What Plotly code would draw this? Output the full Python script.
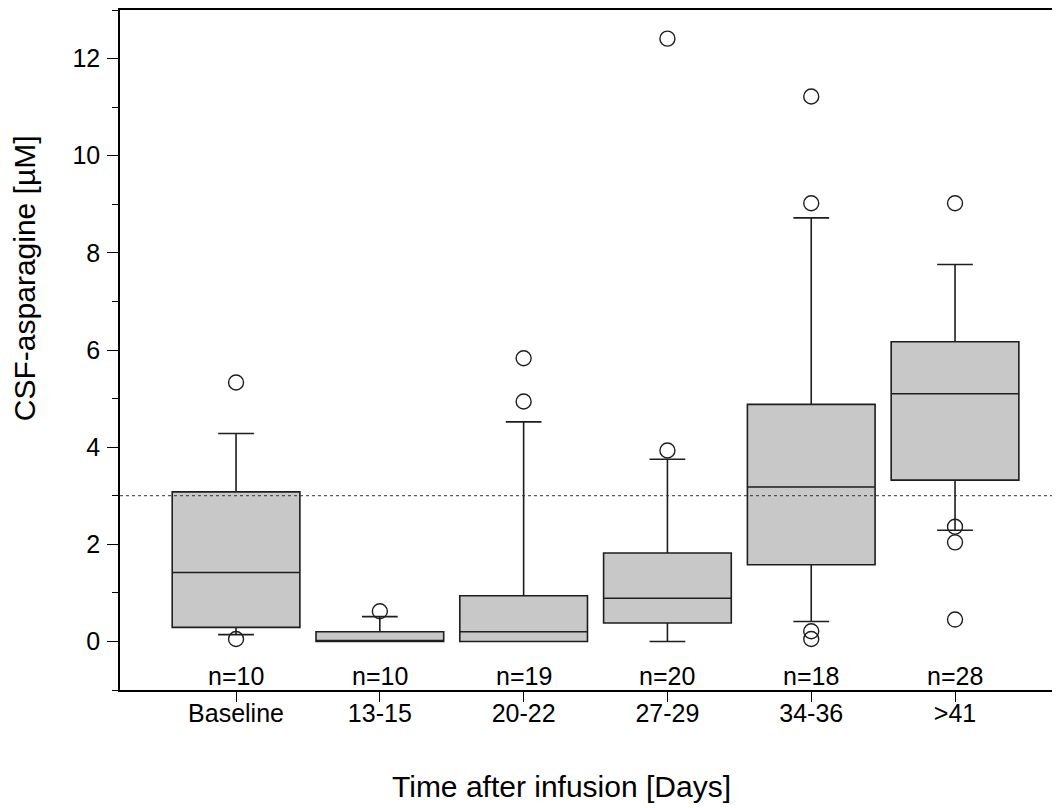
import plotly.graph_objects as go

categories = ["Baseline", "13-15", "20-22", "27-29", "34-36", ">41"]
n_labels = ["n=10", "n=10", "n=19", "n=20", "n=18", "n=28"]
q1 = [0.29, 0.0, 0.0, 0.38, 1.58, 3.32]
median = [1.42, 0.0, 0.2, 0.89, 3.18, 5.10]
q3 = [3.08, 0.2, 0.94, 1.82, 4.88, 6.17]
lower_whisker = [0.14, 0.0, 0.0, 0.0, 0.41, 2.29]
upper_whisker = [4.28, 0.51, 4.52, 3.75, 8.72, 7.76]
outlier_group = [0, 0, 1, 2, 2, 3, 3, 4, 4, 4, 4, 5, 5, 5, 5]
outlier_value = [5.33, 0.05, 0.62, 4.94, 5.83, 3.93, 12.41, 9.02, 11.22, 0.21, 0.05,
                 9.02, 2.36, 2.04, 0.45]
reference_level = 3.0

pos = list(range(len(categories)))
FONT = "Liberation Sans, Arial, sans-serif"
INK = "#1e1e1e"

fig = go.Figure()
fig.add_trace(go.Box(
    x=pos, q1=q1, median=median, q3=q3,
    lowerfence=lower_whisker, upperfence=upper_whisker,
    width=0.888, whiskerwidth=0.28, boxpoints=False,
    fillcolor="#c8c8c8", line=dict(color=INK, width=1.6),
    showlegend=False, hoverinfo="skip",
))
fig.add_trace(go.Scatter(
    x=outlier_group, y=outlier_value, mode="markers",
    marker=dict(symbol="circle-open", size=15, color=INK, line=dict(width=1.4, color=INK)),
    showlegend=False, hoverinfo="skip",
))

fig.add_shape(type="line", xref="paper", x0=0, x1=1, yref="y", y0=reference_level, y1=reference_level,
              line=dict(color="#333333", width=1, dash="dot"), layer="above")

for i, t in enumerate(n_labels):
    fig.add_annotation(x=i, y=-0.72, text=t, showarrow=False, xref="x", yref="y",
                       font=dict(family=FONT, size=25, color="#000000"), yanchor="middle")

fig.add_annotation(text="Time after infusion [Days]", xref="paper", yref="paper",
                   x=0.470, y=-0.1417, showarrow=False,
                   xanchor="center", yanchor="middle",
                   font=dict(family=FONT, size=30, color="#000000"))
fig.add_annotation(text="CSF-asparagine [µM]", xref="paper", yref="paper",
                   x=-0.1021, y=0.6057, showarrow=False, textangle=-90,
                   xanchor="center", yanchor="middle",
                   font=dict(family=FONT, size=30, color="#000000"))

fig.update_layout(
    width=1052, height=800,
    margin=dict(l=112, r=0, t=1.5, b=117.5),
    paper_bgcolor="white", plot_bgcolor="white",
    font=dict(family=FONT, size=25, color="#000000"),
    xaxis=dict(
        range=[-0.807, 5.730], tickmode="array", tickvals=pos, ticktext=categories,
        showgrid=False, zeroline=False, showline=True, linecolor="#000000", linewidth=1.5,
        mirror=True, ticks="outside", ticklen=10, tickwidth=1, tickcolor="#000000",
        ticklabelstandoff=-10, tickfont=dict(family=FONT, size=25),
    ),
    yaxis=dict(
        range=[-1, 13], tickmode="linear", tick0=0, dtick=2,
        showgrid=False, zeroline=False, showline=True, linecolor="#000000", linewidth=1.5,
        ticks="outside", ticklen=11, tickwidth=1, tickcolor="#000000",
        ticklabelstandoff=2, tickfont=dict(family=FONT, size=25),
        minor=dict(dtick=1, tick0=0, ticks="outside", ticklen=6, tickwidth=1, tickcolor="#000000", showgrid=False),
    ),
)

fig.write_html("out.html")
